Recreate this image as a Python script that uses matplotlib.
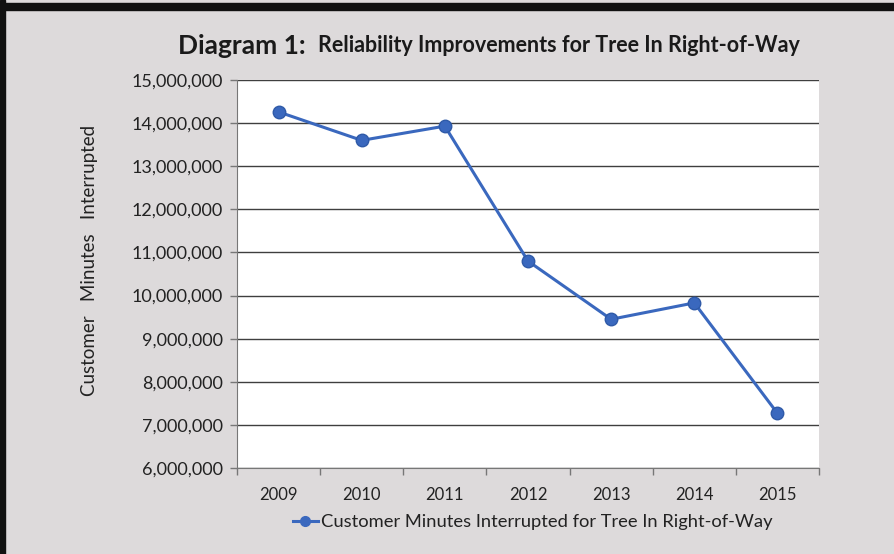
import matplotlib
matplotlib.use("Agg")
import matplotlib.pyplot as plt
from matplotlib.patches import Rectangle
from matplotlib.lines import Line2D
from matplotlib.ticker import FuncFormatter, FixedLocator

years = ["2009", "2010", "2011", "2012", "2013", "2014", "2015"]
values = [14260000, 13600000, 13930000, 10800000, 9450000, 9830000, 7270000]
y_ticks = [6000000, 7000000, 8000000, 9000000, 10000000, 11000000, 12000000,
           13000000, 14000000, 15000000]
series_name = "Customer Minutes Interrupted for Tree In Right-of-Way"

FONT = ["Lato", "DejaVu Sans"]
plt.rcParams["font.family"] = FONT

W, H = 895, 554
fig = plt.figure(figsize=(W / 100, H / 100), dpi=100)
fig.patch.set_facecolor("#dddadb")

# dark frame on left and top
fig.add_artist(Rectangle((0, 0), 5 / W, 1, transform=fig.transFigure,
                         color="#111111", zorder=10))
fig.add_artist(Rectangle((0, 1 - 10 / H), 1, 7 / H, transform=fig.transFigure,
                         color="#111111", zorder=10))

ax = fig.add_axes([237 / W, 1 - 468 / H, 582 / W, 388 / H])
ax.set_facecolor("white")

x = list(range(len(years)))
ax.plot(x, values, color="#3a68be", linewidth=2.2, marker="o",
        markersize=9, markerfacecolor="#3a68be", markeredgecolor="#2f5aa8",
        zorder=3)

ax.set_xlim(-0.5, len(years) - 0.5)
ax.set_ylim(y_ticks[0], y_ticks[-1])
ax.set_yticks(y_ticks)
ax.yaxis.set_major_formatter(FuncFormatter(lambda v, p: f"{int(v):,}"))
ax.grid(axis="y", color="#3f3f3f", linewidth=1.0)
ax.set_axisbelow(True)

ax.set_xticks(x)
ax.set_xticklabels(years)
ax.xaxis.set_minor_locator(FixedLocator([i - 0.5 for i in range(len(years) + 1)]))
ax.tick_params(axis="x", which="major", length=0, pad=14, labelsize=12,
               labelcolor="#222222")
ax.tick_params(axis="x", which="minor", length=5, color="#777777", width=1)
ax.tick_params(axis="y", length=5, color="#777777", width=1, labelsize=13,
               labelcolor="#222222", pad=5)

for s in ["top", "right"]:
    ax.spines[s].set_visible(False)
ax.spines["left"].set_color("#777777")
ax.spines["bottom"].set_color("#777777")

fig.text(90 / W, 1 - 260 / H, "Customer   Minutes   Interrupted", rotation=90,
         ha="center", va="center", fontsize=13.5, color="#222222")

# title
fig.text(178 / W, 1 - 46 / H, "Diagram 1:", fontsize=19, fontweight="bold",
         color="#1a1a1a", ha="left", va="center")
fig.text(318 / W, 1 - 46 / H, "Reliability Improvements for Tree In Right-of-Way",
         fontsize=15.5, fontweight="bold", color="#1a1a1a", ha="left",
         va="center")

# legend
handle = Line2D([0], [0], color="#3a68be", linewidth=2.2, marker="o",
                markersize=7, markerfacecolor="#3a68be")
fig.legend([handle], [series_name], loc="center left",
           bbox_to_anchor=(293 / W, 1 - 522 / H), borderpad=0, borderaxespad=0,
           frameon=False, fontsize=13.2, handlelength=1.35, handletextpad=0.2,
           labelcolor="#222222")

fig.savefig("out.png", dpi=100, facecolor=fig.get_facecolor())
